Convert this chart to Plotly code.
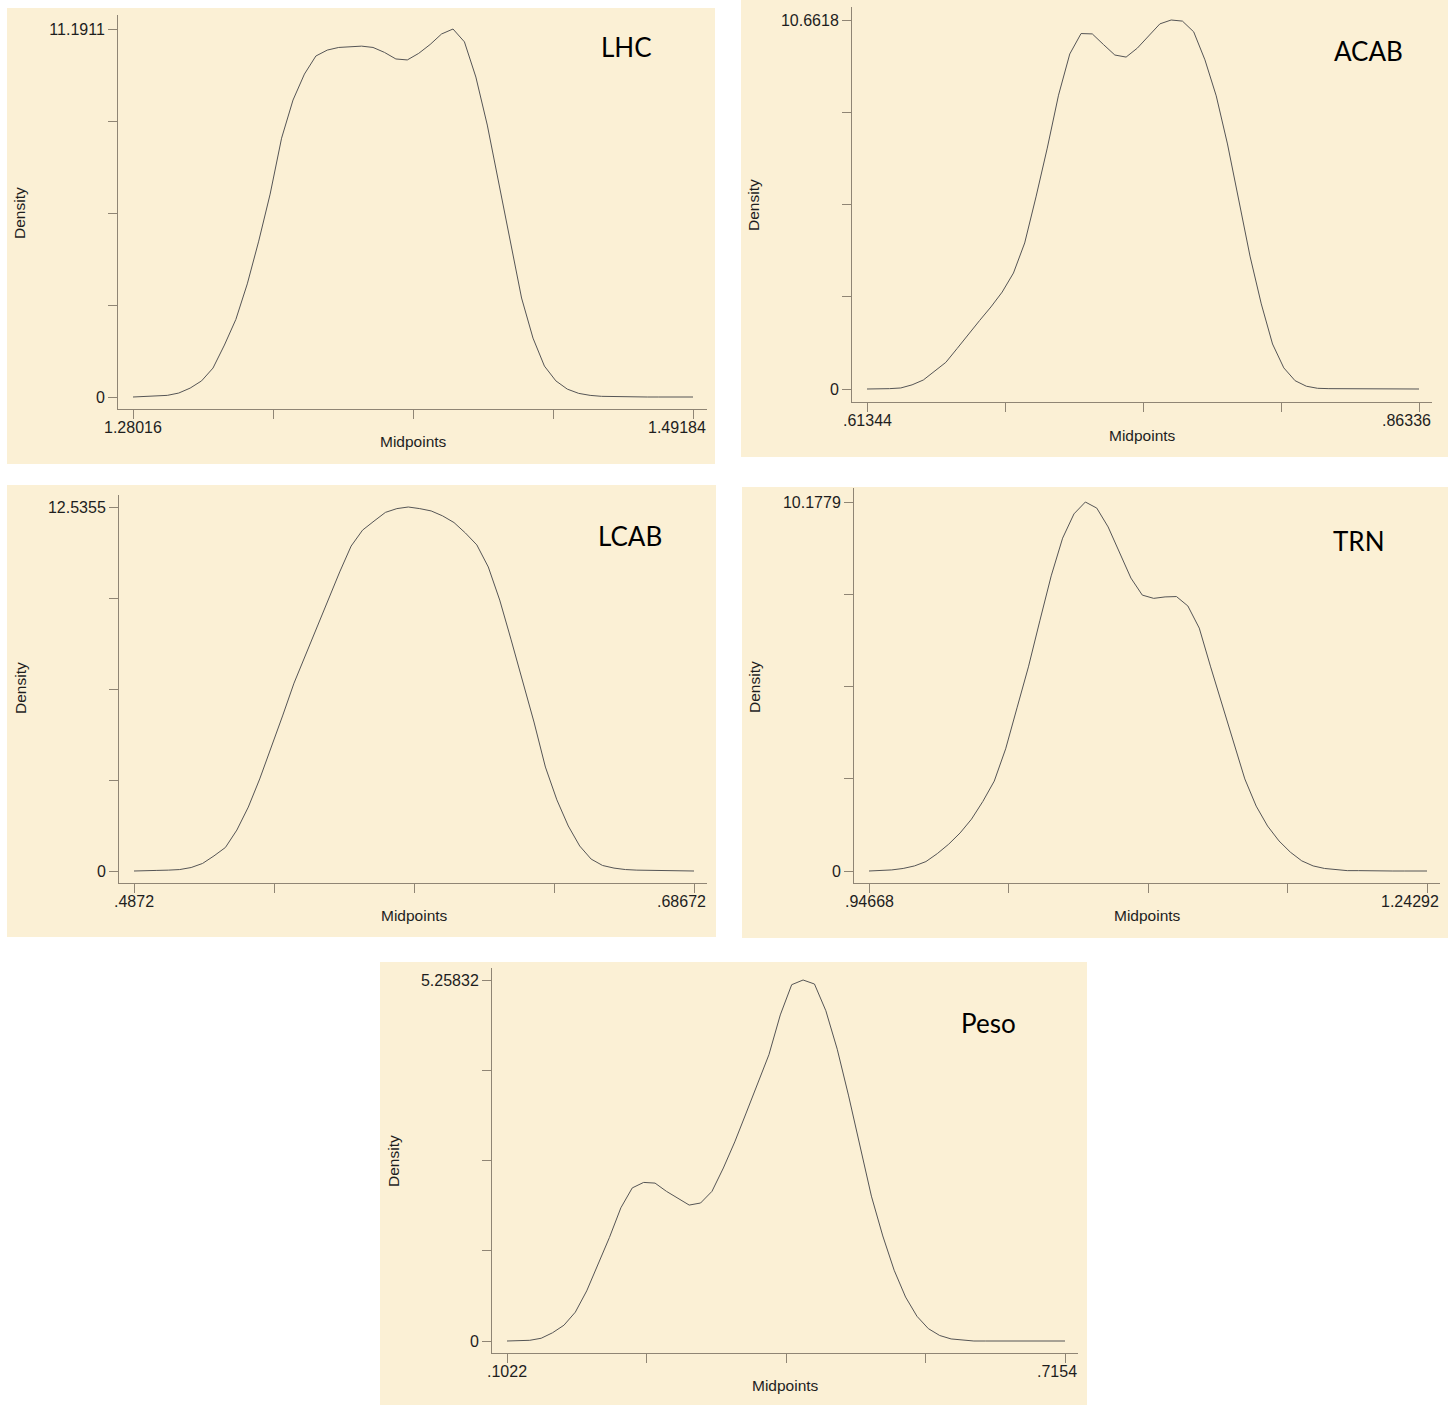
import plotly.graph_objects as go

# ---------------- data (kernel density estimates) ----------------
names = ["LHC", "ACAB", "LCAB", "TRN", "Peso"]

lhc_x = [1.28016, 1.28448, 1.28880, 1.29312, 1.29744, 1.30176, 1.30608, 1.31040, 1.31472, 1.31904,
         1.32336, 1.32768, 1.33200, 1.33632, 1.34064, 1.34496, 1.34928, 1.35360, 1.35792, 1.36224,
         1.36656, 1.37088, 1.37520, 1.37952, 1.38384, 1.38816, 1.39248, 1.39680, 1.40112, 1.40544,
         1.40976, 1.41408, 1.41840, 1.42272, 1.42704, 1.43136, 1.43568, 1.44000, 1.44432, 1.44864,
         1.45296, 1.45728, 1.46160, 1.46592, 1.47024, 1.47456, 1.47888, 1.48320, 1.48752, 1.49184]
lhc_y = [0.00, 0.01, 0.02, 0.05, 0.12, 0.27, 0.49, 0.88, 1.58, 2.36,
         3.44, 4.74, 6.17, 7.87, 9.03, 9.82, 10.37, 10.55, 10.63, 10.66,
         10.67, 10.63, 10.48, 10.28, 10.25, 10.45, 10.72, 11.04, 11.1911, 10.80,
         9.73, 8.27, 6.54, 4.84, 3.01, 1.79, 0.94, 0.49, 0.24, 0.11,
         0.05, 0.02, 0.01, 0.01, 0.00, 0.00, 0.00, 0.00, 0.00, 0.00]

acab_x = [0.61344, 0.61854, 0.62364, 0.62874, 0.63384, 0.63894, 0.64404, 0.64914, 0.65424, 0.65934,
          0.66444, 0.66954, 0.67464, 0.67974, 0.68484, 0.68995, 0.69505, 0.70015, 0.70525, 0.71035,
          0.71545, 0.72055, 0.72565, 0.73075, 0.73585, 0.74095, 0.74605, 0.75115, 0.75625, 0.76135,
          0.76645, 0.77155, 0.77665, 0.78175, 0.78685, 0.79195, 0.79705, 0.80215, 0.80726, 0.81236,
          0.81746, 0.82256, 0.82766, 0.83276, 0.83786, 0.84296, 0.84806, 0.85316, 0.85826, 0.86336]
acab_y = [0.00, 0.00, 0.01, 0.03, 0.12, 0.26, 0.51, 0.77, 1.17, 1.59,
          1.98, 2.37, 2.80, 3.35, 4.22, 5.55, 6.96, 8.49, 9.68, 10.27,
          10.26, 9.95, 9.65, 9.59, 9.85, 10.20, 10.55, 10.6618, 10.63, 10.32,
          9.51, 8.47, 7.08, 5.46, 3.84, 2.46, 1.30, 0.61, 0.24, 0.08,
          0.02, 0.01, 0.01, 0.00, 0.00, 0.00, 0.00, 0.00, 0.00, 0.00]

lcab_x = [0.48720, 0.49127, 0.49534, 0.49942, 0.50349, 0.50756, 0.51163, 0.51570, 0.51977, 0.52385,
          0.52792, 0.53199, 0.53606, 0.54013, 0.54421, 0.54828, 0.55235, 0.55642, 0.56049, 0.56456,
          0.56864, 0.57271, 0.57678, 0.58085, 0.58492, 0.58900, 0.59307, 0.59714, 0.60121, 0.60528,
          0.60935, 0.61343, 0.61750, 0.62157, 0.62564, 0.62971, 0.63378, 0.63786, 0.64193, 0.64600,
          0.65007, 0.65414, 0.65822, 0.66229, 0.66636, 0.67043, 0.67450, 0.67857, 0.68265, 0.68672]
lcab_y = [0.00, 0.00, 0.02, 0.03, 0.05, 0.12, 0.26, 0.52, 0.81, 1.41,
          2.20, 3.17, 4.24, 5.34, 6.47, 7.44, 8.40, 9.33, 10.30, 11.19,
          11.74, 12.05, 12.35, 12.48, 12.5355, 12.48, 12.40, 12.23, 12.00, 11.64,
          11.23, 10.47, 9.33, 7.96, 6.51, 5.13, 3.58, 2.45, 1.55, 0.86,
          0.41, 0.19, 0.10, 0.05, 0.03, 0.02, 0.01, 0.01, 0.00, 0.00]

trn_x = [0.94668, 0.95273, 0.95877, 0.96482, 0.97086, 0.97691, 0.98295, 0.98900, 0.99505, 1.00109,
         1.00714, 1.01318, 1.01923, 1.02527, 1.03132, 1.03737, 1.04341, 1.04946, 1.05550, 1.06155,
         1.06759, 1.07364, 1.07969, 1.08573, 1.09178, 1.09782, 1.10387, 1.10991, 1.11596, 1.12201,
         1.12805, 1.13410, 1.14014, 1.14619, 1.15223, 1.15828, 1.16433, 1.17037, 1.17642, 1.18246,
         1.18851, 1.19455, 1.20060, 1.20665, 1.21269, 1.21874, 1.22478, 1.23083, 1.23687, 1.24292]
trn_y = [0.00, 0.01, 0.03, 0.07, 0.14, 0.26, 0.48, 0.74, 1.05, 1.43,
         1.92, 2.48, 3.37, 4.50, 5.63, 6.90, 8.14, 9.18, 9.85, 10.1779,
         10.01, 9.49, 8.80, 8.08, 7.61, 7.52, 7.56, 7.57, 7.31, 6.70,
         5.63, 4.58, 3.56, 2.54, 1.79, 1.24, 0.83, 0.52, 0.28, 0.14,
         0.07, 0.03, 0.01, 0.01, 0.00, 0.00, 0.00, 0.00, 0.00, 0.00]

peso_x = [0.10220, 0.11471, 0.12723, 0.13974, 0.15226, 0.16477, 0.17728, 0.18980, 0.20231, 0.21483,
          0.22734, 0.23986, 0.25237, 0.26488, 0.27740, 0.28991, 0.30243, 0.31494, 0.32745, 0.33997,
          0.35248, 0.36500, 0.37751, 0.39003, 0.40254, 0.41505, 0.42757, 0.44008, 0.45260, 0.46511,
          0.47763, 0.49014, 0.50265, 0.51517, 0.52768, 0.54020, 0.55271, 0.56522, 0.57774, 0.59025,
          0.60277, 0.61528, 0.62780, 0.64031, 0.65282, 0.66534, 0.67785, 0.69037, 0.70288, 0.71540]
peso_y = [0.00, 0.00, 0.01, 0.04, 0.12, 0.23, 0.42, 0.73, 1.11, 1.51,
          1.94, 2.23, 2.31, 2.30, 2.18, 2.08, 1.98, 2.01, 2.18, 2.52,
          2.90, 3.32, 3.74, 4.17, 4.75, 5.19, 5.25832, 5.20, 4.81, 4.25,
          3.57, 2.85, 2.11, 1.53, 1.03, 0.64, 0.36, 0.18, 0.08, 0.03,
          0.01, 0.00, 0.00, 0.00, 0.00, 0.00, 0.00, 0.00, 0.00, 0.00]

x_min = [1.28016, 0.61344, 0.4872, 0.94668, 0.1022]
x_max = [1.49184, 0.86336, 0.68672, 1.24292, 0.7154]
y_max = [11.1911, 10.6618, 12.5355, 10.1779, 5.25832]
x_min_labels = ["1.28016", ".61344", ".4872", ".94668", ".1022"]
x_max_labels = ["1.49184", ".86336", ".68672", "1.24292", ".7154"]
y_max_labels = ["11.1911", "10.6618", "12.5355", "10.1779", "5.25832"]
series_x = [lhc_x, acab_x, lcab_x, trn_x, peso_x]
series_y = [lhc_y, acab_y, lcab_y, trn_y, peso_y]

# ---------------- layout (pixel geometry of each panel) ----------------
W, H = 1453, 1405
BG = "#FBF0D5"
AXC = "#8F8574"
LINEC = "#555555"
TXT = "#1E1E1E"
SANS = "Liberation Sans, Arial, sans-serif"
TICKFONT = dict(family=SANS, size=16, color=TXT)

geom = [
    dict(box=(7, 8, 715, 464), area=(118, 15, 707, 409), xt=(133, 693), yt=(397, 29),
         dens=(20, 213), mid=(413, 442), ttl=(626, 47)),
    dict(box=(741, 0, 1448, 457), area=(852, 7, 1432, 402), xt=(867, 1419), yt=(389, 20),
         dens=(754, 205), mid=(1142, 435), ttl=(1368, 51)),
    dict(box=(7, 485, 716, 937), area=(119, 495, 707, 883), xt=(134, 694), yt=(871, 507),
         dens=(20, 688), mid=(414, 915), ttl=(630, 536)),
    dict(box=(742, 487, 1448, 938), area=(854, 488, 1440, 883), xt=(869, 1427), yt=(871, 502),
         dens=(755, 687), mid=(1147, 915), ttl=(1359, 541)),
    dict(box=(380, 962, 1087, 1405), area=(492, 968, 1078, 1353), xt=(507, 1065), yt=(1341, 980),
         dens=(393, 1161), mid=(785, 1385), ttl=(988, 1023)),
]

def fx(p):
    return p / W

def fy(p):
    return 1 - p / H

fig = go.Figure()
shapes, annotations = [], []
layout_axes = {}

for k in range(5):
    g = geom[k]
    i = k + 1
    xl, yt_, xr, yb = g["area"]
    xt0, xt1 = g["xt"]
    y0p, y1p = g["yt"]
    xs = (x_max[k] - x_min[k]) / (xt1 - xt0)
    xrange = [x_min[k] - (xt0 - xl) * xs, x_max[k] + (xr - xt1) * xs]
    ys = y_max[k] / (y0p - y1p)
    yrange = [-(yb - y0p) * ys, y_max[k] + (y1p - yt_) * ys]

    xvals = [x_min[k] + j * (x_max[k] - x_min[k]) / 4 for j in range(5)]
    yvals = [j * y_max[k] / 4 for j in range(5)]

    sfx = "" if i == 1 else str(i)
    common = dict(showline=True, linecolor=AXC, linewidth=1, ticks="outside", ticklen=9,
                  tickcolor=AXC, tickwidth=1, showgrid=False, zeroline=False,
                  tickfont=TICKFONT, fixedrange=True, automargin=False)
    layout_axes["xaxis" + sfx] = dict(
        domain=[fx(xl), fx(xr)], anchor="y" + sfx, range=xrange, tickvals=xvals,
        ticktext=["", "", "", "", ""], **common)
    layout_axes["yaxis" + sfx] = dict(
        domain=[fy(yb), fy(yt_)], anchor="x" + sfx, range=yrange, tickvals=yvals,
        ticktext=["0", "", "", "", y_max_labels[k]], **common)

    fig.add_trace(go.Scatter(x=series_x[k], y=series_y[k], mode="lines",
                             line=dict(color=LINEC, width=1),
                             xaxis="x" + sfx, yaxis="y" + sfx,
                             showlegend=False, hoverinfo="skip"))

    bx0, by0, bx1, by1 = g["box"]
    shapes.append(dict(type="rect", xref="paper", yref="paper",
                       x0=fx(bx0), x1=fx(bx1), y0=fy(by1), y1=fy(by0),
                       fillcolor=BG, line=dict(width=0), layer="below"))

    # end labels of the x axis (first centred on its tick, last right-aligned at axis end)
    annotations.append(dict(text=x_min_labels[k], x=x_min[k], xref="x" + sfx,
                            y=fy(yb + 18.5), yref="paper", showarrow=False,
                            xanchor="center", yanchor="middle", font=TICKFONT))
    annotations.append(dict(text=x_max_labels[k], x=fx(xr + 1), xref="paper",
                            y=fy(yb + 18.5), yref="paper", showarrow=False,
                            xanchor="right", yanchor="middle", font=TICKFONT))

    annotations.append(dict(text="Density", textangle=-90, x=fx(g["dens"][0]), y=fy(g["dens"][1]),
                            xref="paper", yref="paper", showarrow=False,
                            xanchor="center", yanchor="middle",
                            font=dict(family=SANS, size=15.5, color=TXT)))
    annotations.append(dict(text="Midpoints", x=fx(g["mid"][0]), y=fy(g["mid"][1]),
                            xref="paper", yref="paper", showarrow=False,
                            xanchor="center", yanchor="middle",
                            font=dict(family=SANS, size=15.5, color=TXT)))
    annotations.append(dict(text=names[k], x=fx(g["ttl"][0]), y=fy(g["ttl"][1]),
                            xref="paper", yref="paper", showarrow=False,
                            xanchor="center", yanchor="middle",
                            font=dict(family="Lato, Open Sans, sans-serif", size=26, color="#000000")))

fig.update_layout(width=W, height=H, margin=dict(l=0, r=0, t=0, b=0, pad=0, autoexpand=False),
                  paper_bgcolor="white", plot_bgcolor="rgba(0,0,0,0)",
                  shapes=shapes, annotations=annotations, **layout_axes)

fig.write_html("out.html", config={"displayModeBar": False},
               post_script="document.body.style.margin='0px';document.body.style.overflow='hidden';")
